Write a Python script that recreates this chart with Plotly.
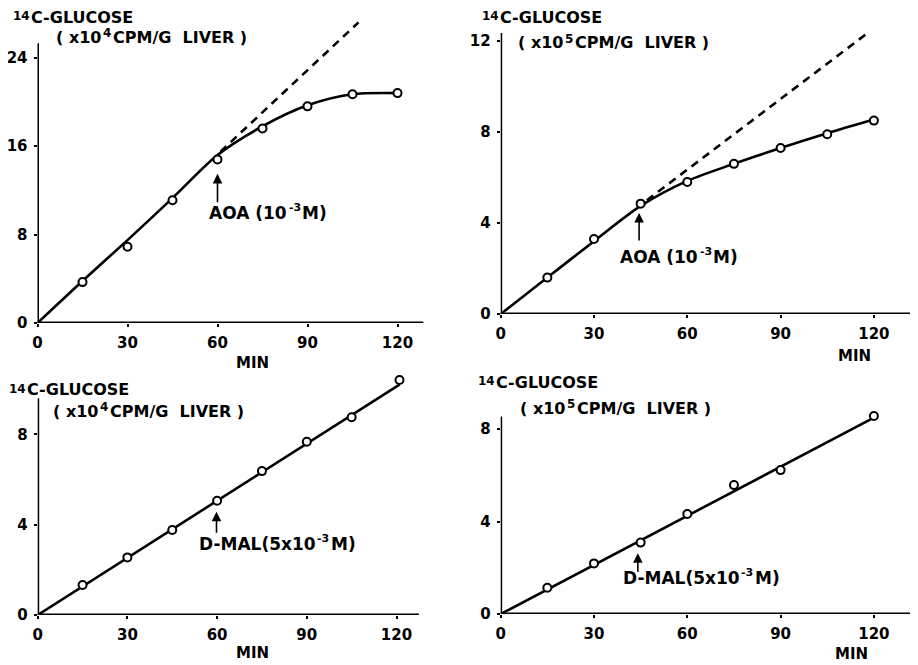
import plotly.graph_objects as go

W, H = 918, 665
OFF = 8  # page body margin of the browser, compensated so the picture lines up

# ---------------- data ----------------
# Panel A: AOA, 14C-glucose x10^4 CPM/g liver
a_t = [15, 30, 45, 60, 75, 90, 105, 120]
a_y = [3.7, 6.9, 11.1, 14.8, 17.6, 19.6, 20.7, 20.8]
a_fit_t = [0, 15, 30, 45, 60, 75, 90, 105, 120]
a_fit_y = [0, 3.8, 7.5, 11.3, 15.2, 17.8, 19.7, 20.7, 20.8]
a_ext_t = [61, 107]
a_ext_y = [15.5, 27.2]

# Panel B: AOA, x10^5 CPM/g liver
b_t = [15, 30, 45, 60, 75, 90, 105, 120]
b_y = [1.6, 3.3, 4.85, 5.8, 6.6, 7.3, 7.9, 8.5]
b_fit_t = [0, 15, 30, 45, 60, 75, 90, 105, 120]
b_fit_y = [0, 1.6, 3.2, 4.75, 5.85, 6.6, 7.3, 7.95, 8.55]
b_ext_t = [47, 117.5]
b_ext_y = [5.0, 12.3]

# Panel C: D-MAL, x10^4 CPM/g liver
c_t = [15, 30, 45, 60, 75, 90, 105, 121]
c_y = [1.33, 2.55, 3.76, 5.06, 6.37, 7.67, 8.75, 10.4]
c_fit_t = [0, 121]
c_fit_y = [0, 10.2]

# Panel D: D-MAL, x10^5 CPM/g liver
d_t = [15, 30, 45, 60, 75, 90, 120]
d_y = [1.14, 2.19, 3.09, 4.33, 5.58, 6.23, 8.57]
d_fit_t = [0, 120]
d_fit_y = [0, 8.5]

x_ticks = [0, 30, 60, 90, 120]
a_yticks = [0, 8, 16, 24]
b_yticks = [0, 4, 8, 12]
c_yticks = [0, 4, 8]
d_yticks = [0, 4, 8]

# texts as (piece, is_superscript)
y_title = [("14", True), ("C-GLUCOSE", False)]
a_unit = [("( x10", False), ("4", True), ("CPM/G  LIVER )", False)]
b_unit = [("( x10", False), ("5", True), ("CPM/G  LIVER )", False)]
aoa_label = [("AOA (10", False), ("-3", True), ("M)", False)]
dmal_label = [("D-MAL(5x10", False), ("-3", True), ("M)", False)]
x_label = "MIN"

# ---------------- geometry (pixels in the reference picture) ----------------
panels = [
    dict(x0=37.5, y0=323, sx=3.0, sy=11.17, xr=130, yr=28.5, xend=128.6, yend=25.3,
         yt=a_yticks, t=a_t, y=a_y, ft=a_fit_t, fy=a_fit_y, shape="spline",
         et=a_ext_t, ey=a_ext_y,
         title=(12, 17.5), unit=(55, 37.5), unitText=a_unit, minp=(252, 363),
         arrow=(60, 13.5, 10.8), lab=(208, 213), labText=aoa_label),
    dict(x0=500.7, y0=314, sx=3.11, sy=22.75, xr=134, yr=12.6, xend=134, yend=12.35,
         yt=b_yticks, t=b_t, y=b_y, ft=b_fit_t, fy=b_fit_y, shape="spline",
         et=b_ext_t, ey=b_ext_y,
         title=(481, 17.5), unit=(517, 43), unitText=b_unit, minp=(854, 356),
         arrow=(44.5, 4.44, 3.16), lab=(619, 257), labText=aoa_label),
    dict(x0=37.7, y0=615, sx=2.99, sy=22.59, xr=128.5, yr=10.9, xend=127.5, yend=9.6,
         yt=c_yticks, t=c_t, y=c_y, ft=c_fit_t, fy=c_fit_y, shape="linear",
         et=None, ey=None,
         title=(8, 390), unit=(52, 411), unitText=a_unit, minp=(253, 653),
         arrow=(59.8, 4.57, 3.57), lab=(198, 544), labText=dmal_label),
    dict(x0=500.7, y0=614, sx=3.11, sy=23.1, xr=133, yr=8.9, xend=132, yend=8.55,
         yt=d_yticks, t=d_t, y=d_y, ft=d_fit_t, fy=d_fit_y, shape="linear",
         et=None, ey=None,
         title=(477, 382), unit=(519, 408), unitText=b_unit, minp=(851, 654),
         arrow=(44.1, 2.63, 1.76), lab=(622, 578), labText=dmal_label),
]

# DejaVu Sans Bold advance widths (em)
ADV = {" ": 0.348, "(": 0.458, ")": 0.458, "-": 0.415, "/": 0.365, "x": 0.663,
       "A": 0.774, "C": 0.734, "D": 0.830, "E": 0.683, "G": 0.821, "I": 0.372,
       "L": 0.637, "M": 0.996, "O": 0.850, "P": 0.733, "R": 0.770, "S": 0.720,
       "U": 0.812, "V": 0.774, "N": 0.840}


def text_w(s, size):
    return sum(ADV.get(ch, 0.696) for ch in s) * size


def font(size):
    return dict(family="DejaVu Sans", size=size, color="black", weight="bold")


def px_x(px):
    return (px - OFF) / W


def px_y(py):
    return 1 - (py - OFF) / H


annotations = []


def add_rich(pieces, left, cy, size, sup_size, sup_shift):
    x = left
    for s, sup in pieces:
        fs = sup_size if sup else size
        yy = cy - sup_shift if sup else cy
        annotations.append(dict(text=s, xref="paper", yref="paper",
                                x=px_x(x), y=px_y(yy), xanchor="left", yanchor="middle",
                                showarrow=False, font=font(fs), borderpad=0))
        x += text_w(s, fs) + 1.5


fig = go.Figure()
layout = dict(
    template="none",
    width=W, height=H, margin=dict(l=0, r=0, t=0, b=0, pad=0, autoexpand=False),
    paper_bgcolor="white", plot_bgcolor="white", showlegend=False,
    font=font(15),
)
shapes = []

for i, p in enumerate(panels):
    n = "" if i == 0 else str(i + 1)
    xa, ya = "x" + n, "y" + n
    xd = [px_x(p["x0"]), px_x(p["x0"] + p["xr"] * p["sx"])]
    yd = [px_y(p["y0"]), px_y(p["y0"] - p["yr"] * p["sy"])]
    layout["xaxis" + n] = dict(
        domain=[max(0, xd[0]), min(1, xd[1])], range=[0, p["xr"]], anchor=ya,
        showgrid=False, zeroline=False, showline=False, automargin=False,
        tickvals=x_ticks, ticks="outside", ticklen=3, tickwidth=2, tickcolor="black",
        tickfont=font(15), ticklabelstandoff=3,
    )
    layout["yaxis" + n] = dict(
        domain=[max(0, yd[0]), min(1, yd[1])], range=[0, p["yr"]], anchor=xa,
        showgrid=False, zeroline=False, showline=False, automargin=False,
        tickvals=p["yt"], ticks="outside", ticklen=3, tickwidth=2, tickcolor="black",
        tickfont=font(15), ticklabelstandoff=3,
    )
    # axis lines
    shapes.append(dict(type="line", xref=xa, yref=ya, x0=0, y0=0, x1=p["xend"], y1=0,
                       line=dict(color="black", width=3)))
    shapes.append(dict(type="line", xref=xa, yref=ya, x0=0, y0=0, x1=0, y1=p["yend"],
                       line=dict(color="black", width=3)))
    # fitted curve
    fig.add_trace(go.Scatter(x=p["ft"], y=p["fy"], mode="lines", xaxis=xa, yaxis=ya,
                             line=dict(color="black", width=2.6, shape=p["shape"], smoothing=0.8),
                             hoverinfo="skip"))
    # extrapolation
    if p["et"] is not None:
        fig.add_trace(go.Scatter(x=p["et"], y=p["ey"], mode="lines", xaxis=xa, yaxis=ya,
                                 line=dict(color="black", width=2.6, dash="8px,6px"),
                                 hoverinfo="skip"))
    # data points
    fig.add_trace(go.Scatter(x=p["t"], y=p["y"], mode="markers", xaxis=xa, yaxis=ya,
                             marker=dict(symbol="circle", size=8, color="white",
                                         line=dict(color="black", width=2)),
                             cliponaxis=False))
    # header texts
    add_rich(y_title, p["title"][0], p["title"][1], 16, 12, 1.5)
    add_rich(p["unitText"], p["unit"][0], p["unit"][1], 16, 12, 4)
    annotations.append(dict(text=x_label, xref="paper", yref="paper",
                            x=px_x(p["minp"][0]), y=px_y(p["minp"][1]),
                            xanchor="center", yanchor="middle", showarrow=False,
                            font=font(15)))
    # arrow
    ax_x, head_y, tail_y = p["arrow"]
    annotations.append(dict(text="", xref=xa, yref=ya, x=ax_x, y=head_y,
                            axref=xa, ayref=ya, ax=ax_x, ay=tail_y,
                            showarrow=True, arrowhead=2, arrowsize=1.2, arrowwidth=1.6,
                            arrowcolor="black", font=font(10)))
    # treatment label
    add_rich(p["labText"], p["lab"][0], p["lab"][1], 17, 11, 6)

layout["shapes"] = shapes
layout["annotations"] = annotations
fig.update_layout(**layout)
fig.write_html("out.html")
